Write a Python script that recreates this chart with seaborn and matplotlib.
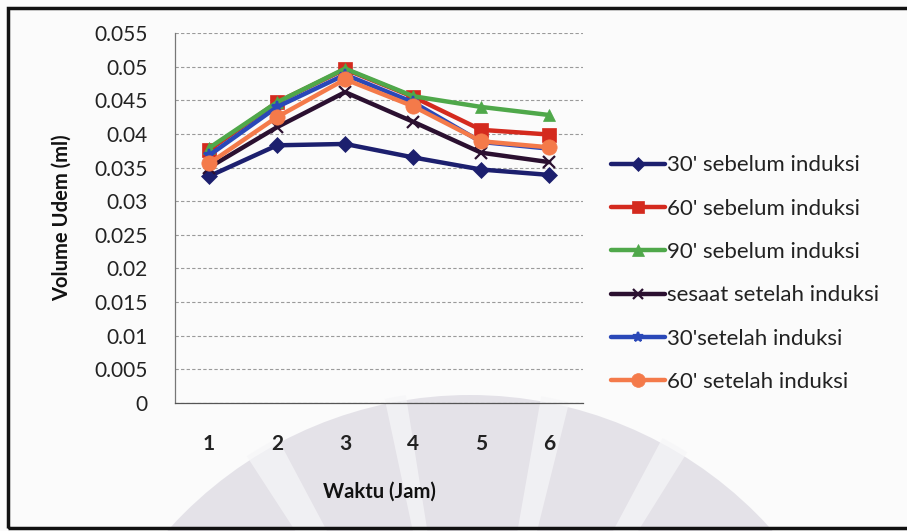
import numpy as np
import pandas as pd
import matplotlib
matplotlib.use("Agg")
import matplotlib.pyplot as plt
from matplotlib.patches import Rectangle, Wedge
from matplotlib.lines import Line2D
import seaborn as sns

# Waktu pengukuran (jam)
jam = [1, 2, 3, 4, 5, 6]

# Volume udem rata-rata (ml) per kelompok
sebelum_30 = [0.0337, 0.0383, 0.0385, 0.0365, 0.0347, 0.0339]
sebelum_60 = [0.0376, 0.0447, 0.0496, 0.0455, 0.0406, 0.0399]
sebelum_90 = [0.0379, 0.0447, 0.0497, 0.0456, 0.0440, 0.0428]
sesaat = [0.0350, 0.0410, 0.0462, 0.0418, 0.0372, 0.0358]
setelah_30 = [0.0368, 0.0440, 0.0488, 0.0447, 0.0388, 0.0378]
setelah_60 = [0.0356, 0.0425, 0.0481, 0.0441, 0.0389, 0.0380]

labels = ["30' sebelum induksi", "60' sebelum induksi", "90' sebelum induksi",
          "sesaat setelah induksi", "30'setelah induksi", "60' setelah induksi"]
series = [sebelum_30, sebelum_60, sebelum_90, sesaat, setelah_30, setelah_60]

y_ticks = [0, 0.005, 0.01, 0.015, 0.02, 0.025, 0.03, 0.035, 0.04, 0.045, 0.05, 0.055]
y_ticklabels = ["0", "0.005", "0.01", "0.015", "0.02", "0.025", "0.03",
                "0.035", "0.04", "0.045", "0.05", "0.055"]

colors = ["#1c1f6e", "#d42a1e", "#4fa84a", "#2b1030", "#2a48b8", "#f47a4a"]
markers = ["D", "s", "^", "x", "*", "o"]
msizes = [8, 10, 9, 8, 8, 11]

df = pd.DataFrame({
    "Jam": np.tile(jam, len(series)),
    "Volume": np.concatenate(series),
    "Kelompok": np.repeat(labels, len(jam)),
})

sns.set_theme(style="white")
plt.rcParams["font.family"] = ["Lato", "DejaVu Sans"]

fig = plt.figure(figsize=(9.07, 5.31), dpi=100)
fig.patch.set_facecolor("#fbfbfb")

# faint fan-shaped emblem behind the lower part of the chart
fan = Wedge((4.70, -2.69), 4.05, 0, 180, transform=fig.dpi_scale_trans,
            facecolor="#c9c5d3", edgecolor="none", alpha=0.45, zorder=0)
fig.patches.append(fan)
for a0, a1 in [(118, 123), (99, 102), (76, 80), (58, 62)]:
    ray = Wedge((4.70, -2.69), 4.1, a0, a1, transform=fig.dpi_scale_trans,
                facecolor="#f6f6f8", edgecolor="none", alpha=0.7, zorder=0.1)
    fig.patches.append(ray)

# outer frame
frame = Rectangle((0.009, 0.006), 1.2, 0.979, transform=fig.transFigure,
                  fill=False, edgecolor="#111111", linewidth=2.5, zorder=5)
fig.patches.append(frame)

ax = fig.add_axes([0.193, 0.241, 0.450, 0.697])
ax.set_facecolor("none")
ax.set_zorder(3)

for i, lab in enumerate(labels):
    sub = df[df["Kelompok"] == lab]
    sns.lineplot(data=sub, x="Jam", y="Volume", ax=ax, color=colors[i],
                 marker=markers[i], markersize=msizes[i], linewidth=3.2,
                 markeredgecolor=colors[i], markeredgewidth=1.6 if markers[i] in "x*" else 0.5,
                 legend=False, zorder=3 + i * 0.1)

ax.set_xlim(0.5, 6.5)
ax.set_ylim(0, 0.055)
ax.set_yticks(y_ticks)
ax.set_yticklabels(y_ticklabels, fontsize=15, color="#222222")
ax.set_xticks(jam)
ax.set_xticklabels([str(j) for j in jam], fontsize=15, fontweight="bold", color="#222222")
ax.set_xticks(np.arange(0.5, 7.0, 1.0), minor=True)
ax.tick_params(axis="x", which="major", length=0, pad=22)
ax.tick_params(axis="x", which="minor", length=5, width=0.8, color="#555555", direction="out")
ax.tick_params(axis="y", which="major", length=6, width=0.8, color="#555555", direction="out", pad=14)

ax.yaxis.grid(True, linestyle=(0, (3, 2)), color="#9a9a9a", linewidth=0.8)
ax.xaxis.grid(False)
for s in ["top", "right"]:
    ax.spines[s].set_visible(False)
ax.spines["left"].set_color("#777777")
ax.spines["bottom"].set_color("#555555")
ax.spines["left"].set_linewidth(0.9)
ax.spines["bottom"].set_linewidth(0.9)

ax.set_xlabel("Waktu (Jam)", fontsize=14.5, fontweight="bold", labelpad=20, color="#111111")
ax.set_ylabel("Volume Udem (ml)", fontsize=14.5, fontweight="bold", labelpad=16, color="#111111")

handles = [Line2D([0], [0], color=colors[i], marker=markers[i], markersize=msizes[i] * 0.9,
                  linewidth=3.2, markeredgecolor=colors[i],
                  markeredgewidth=1.6 if markers[i] in "x*" else 0.5)
           for i in range(len(labels))]
leg = fig.legend(handles, labels, loc="upper left", bbox_to_anchor=(0.652, 0.745),
                 frameon=False, fontsize=16, handlelength=2.4, handletextpad=0.1,
                 labelspacing=1.05, labelcolor="#222222")
leg.set_zorder(4)

fig.savefig("out.png", dpi=100, facecolor=fig.get_facecolor())
